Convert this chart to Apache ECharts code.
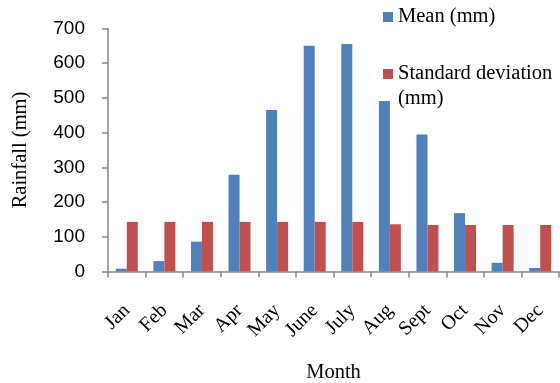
<!DOCTYPE html>
<html>
<head>
<meta charset="utf-8">
<script src="https://cdn.jsdelivr.net/npm/echarts@6/dist/echarts.min.js"></script>
<style>
  html, body { margin: 0; padding: 0; background: #fff; }
  #chart { width: 560px; height: 383px; }
</style>
</head>
<body>
<div id="chart"></div>
<script>
// Monthly rainfall: mean and standard deviation (mm)
const months = ['Jan', 'Feb', 'Mar', 'Apr', 'May', 'June', 'July', 'Aug', 'Sept', 'Oct', 'Nov', 'Dec'];
const meanRain = [8, 30, 86, 279, 465, 650, 655, 491, 395, 168, 25, 10];
const stdRain = [143, 143, 143, 143, 143, 143, 143, 136, 134, 134, 134, 134];
const seriesNames = ['Mean (mm)', 'Standard deviation (mm)'];
const yTicks = { min: 0, max: 700, interval: 100 };

const serif = '"Liberation Serif", "Times New Roman", serif';
const sans = '"Liberation Sans", Arial, sans-serif';
const axisGray = '#868686';

const chart = echarts.init(document.getElementById('chart'));
chart.setOption({
  animation: false,
  grid: {
    left: 108, right: 1, top: 28.5, bottom: 111.5,
    containLabel: false,
    outerBoundsMode: 'none'
  },
  legend: [
    {
      data: [seriesNames[0]],
      left: 383, top: 4.5, padding: 0,
      itemWidth: 10, itemHeight: 10, itemGap: 0,
      icon: 'rect',
      textStyle: { fontFamily: serif, fontSize: 20.5, color: '#000', lineHeight: 25 }
    },
    {
      data: [seriesNames[1]],
      left: 383, top: 36.5, padding: 0,
      itemWidth: 10, itemHeight: 10, itemGap: 0,
      icon: 'rect',
      // blank first line keeps the square level with "Standard deviation"
      formatter: name => ' \n' + name.replace(' (mm)', '\n(mm)'),
      textStyle: { fontFamily: serif, fontSize: 20.5, color: '#000', lineHeight: 25 }
    }
  ],
  xAxis: {
    type: 'category',
    data: months,
    name: 'Month',
    nameLocation: 'middle',
    nameGap: 91,
    nameTextStyle: { fontFamily: serif, fontSize: 20.5, color: '#000' },
    axisLine: { lineStyle: { color: axisGray, width: 1.5 } },
    axisTick: { show: true, length: 6, lineStyle: { color: axisGray, width: 1.5 } },
    axisLabel: { rotate: 45, margin: 36, fontFamily: serif, fontSize: 20, color: '#000' }
  },
  yAxis: {
    type: 'value',
    min: yTicks.min, max: yTicks.max, interval: yTicks.interval,
    name: 'Rainfall (mm)',
    nameLocation: 'middle',
    nameGap: 77,
    nameRotate: 90,
    nameTextStyle: { fontFamily: serif, fontSize: 20.5, color: '#000' },
    splitLine: { show: false },
    axisLine: { show: true, lineStyle: { color: axisGray, width: 1.5 } },
    axisTick: { show: true, length: 6, lineStyle: { color: axisGray, width: 1.5 } },
    axisLabel: { margin: 23, fontFamily: sans, fontSize: 19, color: '#000' }
  },
  series: [
    {
      name: seriesNames[0], type: 'bar', data: meanRain,
      barWidth: 11, barGap: '0%',
      itemStyle: { color: '#4F81BD' }
    },
    {
      name: seriesNames[1], type: 'bar', data: stdRain,
      barWidth: 11, barGap: '0%',
      itemStyle: { color: '#C0504D' }
    }
  ]
});
</script>
</body>
</html>
